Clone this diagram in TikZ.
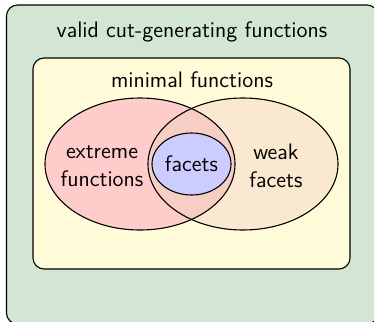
\documentclass[tikz,border=0pt]{standalone}
\usetikzlibrary{positioning}
\definecolor{cgreen}{RGB}{211,230,211}
\definecolor{cyellow}{RGB}{255,250,216}
\definecolor{cred}{RGB}{255,204,204}
\definecolor{cweak}{RGB}{250,233,208}
\definecolor{cboth}{RGB}{246,206,196}
\definecolor{cblue}{RGB}{204,204,255}
\begin{document}
\begin{tikzpicture}[x=0.5pt,y=-0.5pt,
  box/.style={draw=black,line width=0.55pt,rounded corners=5.5pt},
  lbl/.style={font=\fontsize{11.2}{14}\sffamily,align=center,inner sep=0pt},
  ring/.style={draw=black,line width=0.55pt}]
\useasboundingbox (0,0) rectangle (374,321);
\clip (0,0) rectangle (374,321);
\fill[white] (0,0) rectangle (374,321);
% outer box
\draw[box,fill=cgreen] (6.5,5) rectangle (378,324);
\node[lbl] (valid) at (192,32) {valid cut-generating functions};
% inner box
\draw[box,fill=cyellow] (33,58) rectangle (350,269);
\node[lbl] (minimal) at (192,80) {minimal functions};
% ellipses
\fill[cred] (140,164) ellipse [x radius=95, y radius=66];
\fill[cweak] (243,164) ellipse [x radius=95, y radius=66];
\begin{scope}
  \clip (140,164) ellipse [x radius=95, y radius=66];
  \fill[cboth] (243,164) ellipse [x radius=95, y radius=66];
\end{scope}
\draw[ring] (140,164) ellipse [x radius=95, y radius=66];
\draw[ring] (243,164) ellipse [x radius=95, y radius=66];
\draw[ring,fill=cblue] (191.5,164) ellipse [x radius=39.5, y radius=31];
\node[lbl] (extreme) at (102,166) {extreme\\functions};
\node[lbl] (weak) at (276,166) {weak\\facets};
\node[lbl] (facets) at (191.5,164) {facets};
\end{tikzpicture}
\end{document}
